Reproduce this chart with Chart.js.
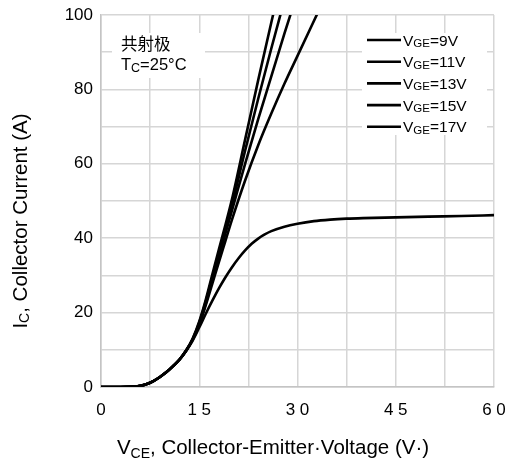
<!DOCTYPE html>
<html>
<head>
<meta charset="utf-8">
<script src="https://cdn.jsdelivr.net/npm/chart.js@4.4.0/dist/chart.umd.min.js"></script>
<style>
  html, body { margin: 0; padding: 0; background: #fff; }
  #wrap { width: 509px; height: 463px; }
</style>
</head>
<body>
<div id="wrap"><canvas id="plots" width="509" height="463"></canvas></div>
<script>
// VCE steps (V) shared by the steep curves
const vceSteep = [0, 0.3, 0.5, 0.6, 0.7, 0.8, 0.9, 1.0, 1.1, 1.2, 1.3, 1.4, 1.5, 1.6, 1.7, 1.8, 1.9, 2.0, 2.2, 2.4, 2.6, 2.8, 3.0, 3.2, 3.4]
const ic17 = [0, 0, 0.1, 0.3, 0.8, 1.6, 2.7, 4.0, 5.6, 7.4, 9.8, 13.0, 17.6, 23.5, 30.3, 37, 43.6, 50.5, 66.5, 82.5, 98, 113, 128, 143, 158]
const ic15 = [0, 0, 0.1, 0.3, 0.8, 1.6, 2.7, 4.0, 5.6, 7.4, 9.8, 12.9, 17.3, 23, 29.5, 36, 42.5, 49, 63.5, 77.5, 91, 104, 117, 130, 143]
const ic13 = [0, 0, 0.1, 0.3, 0.8, 1.6, 2.7, 4.0, 5.6, 7.4, 9.8, 12.8, 17.0, 22.5, 28.8, 35, 41.3, 47.5, 60, 72, 83.5, 95, 106, 117, 128]
const ic11 = [0, 0, 0.1, 0.3, 0.8, 1.6, 2.7, 4.0, 5.6, 7.4, 9.8, 12.7, 16.7, 22, 27.8, 33.6, 39.3, 45, 55.5, 65, 73.5, 81.5, 89, 96.5, 104]

// VGE=9V saturates, so it runs over the whole axis
const vce9 = [0, 0.3, 0.5, 0.6, 0.7, 0.8, 0.9, 1.0, 1.1, 1.2, 1.3, 1.4, 1.5, 1.6, 1.7, 1.8, 1.9, 2.0, 2.1, 2.2, 2.3, 2.4, 2.5, 2.6, 2.8, 3.0, 3.25, 3.5, 3.75, 4.0, 4.5, 5.0, 5.5, 6.0]
const ic9 = [0, 0, 0.1, 0.3, 0.8, 1.6, 2.7, 4.0, 5.6, 7.4, 9.7, 12.5, 16.0, 19.7, 23.2, 26.5, 29.5, 32.2, 34.6, 36.7, 38.5, 39.9, 41.0, 41.9, 43.1, 43.9, 44.6, 45.0, 45.25, 45.4, 45.6, 45.8, 45.95, 46.2]

const legendNames = ['9V', '11V', '13V', '15V', '17V']
const xTickLabels = ['0', '1 5', '3 0', '4 5', '6 0']
const yTickLabels = ['0', '20', '40', '60', '80', '100']

const FONT = 'Arial, "Liberation Sans", sans-serif'

function pts(xs, ys) {
  return xs.map((x, i) => ({ x: x, y: ys[i] }))
}

function serie(data) {
  return {
    data: data,
    showLine: true,
    borderColor: '#000',
    borderWidth: 2.6,
    pointRadius: 0,
    cubicInterpolationMode: 'monotone',
    fill: false
  }
}

// writes text made of normal and subscript pieces, starting at x
function textSub(ctx, parts, x, y, size, subSize, drop) {
  ctx.textAlign = 'left'
  ctx.textBaseline = 'alphabetic'
  parts.forEach(p => {
    const s = p[1] ? subSize : size
    ctx.font = s + 'px ' + FONT
    ctx.fillText(p[0], x, y + (p[1] ? drop : 0))
    x += ctx.measureText(p[0]).width
  })
  return x
}

function widthSub(ctx, parts, size, subSize) {
  let w = 0
  parts.forEach(p => {
    ctx.font = (p[1] ? subSize : size) + 'px ' + FONT
    w += ctx.measureText(p[0]).width
  })
  return w
}

const extras = {
  id: 'extras',
  beforeDatasetsDraw(chart) {
    const ctx = chart.ctx
    ctx.save()
    ctx.fillStyle = '#fff'
    ctx.fillRect(112, 33, 93, 45)   // caption box
    ctx.fillRect(362, 33, 125, 102) // legend box
    ctx.restore()
  },
  afterDraw(chart) {
    const ctx = chart.ctx
    ctx.save()
    ctx.fillStyle = '#000'

    // caption
    ctx.font = '16.5px "Noto Sans CJK SC", sans-serif'
    ctx.textBaseline = 'alphabetic'
    ctx.fillText('共射极', 121, 50)
    textSub(ctx, [['T', false], ['C', true], ['=25°C', false]], 121, 70, 16.5, 12.5, 2)

    // legend
    legendNames.forEach((n, i) => {
      const y = 40 + i * 21.7
      ctx.strokeStyle = '#000'
      ctx.lineWidth = 2.6
      ctx.beginPath()
      ctx.moveTo(367, y)
      ctx.lineTo(401, y)
      ctx.stroke()
      textSub(ctx, [['V', false], ['GE', true], ['=' + n, false]], 403, y + 5.5, 15.5, 11.5, 1.5)
    })

    // axis titles
    const xt = [['V', false], ['CE', true], [', Collector-Emitter·Voltage (V·)', false]]
    const xw = widthSub(ctx, xt, 20.5, 14)
    textSub(ctx, xt, 273 - xw / 2, 454, 20.5, 14, 4)

    ctx.translate(27, 221)
    ctx.rotate(-Math.PI / 2)
    const yt = [['I', false], ['C', true], [', Collector Current (A)', false]]
    const yw = widthSub(ctx, yt, 20.5, 14)
    textSub(ctx, yt, -yw / 2, 0, 20.5, 14, 2)
    ctx.restore()
  }
}

new Chart(document.getElementById('plots'), {
  type: 'scatter',
  data: {
    datasets: [
      serie(pts(vce9, ic9)),
      serie(pts(vceSteep, ic11)),
      serie(pts(vceSteep, ic13)),
      serie(pts(vceSteep, ic15)),
      serie(pts(vceSteep, ic17))
    ]
  },
  options: {
    responsive: false,
    animation: false,
    layout: { padding: { top: 15, right: 15, left: 0, bottom: 0 } },
    plugins: { legend: { display: false }, tooltip: { enabled: false } },
    scales: {
      x: {
        type: 'linear',
        min: 0,
        max: 6,
        afterFit: s => { s.height = 76; s.paddingLeft = 0; s.paddingRight = 0 },
        border: { color: '#c4c4c4', width: 1.5 },
        grid: { color: '#d6d6d6', lineWidth: 1.5, drawTicks: false },
        ticks: {
          stepSize: 0.75,
          padding: 13,
          color: '#000',
          font: { family: FONT, size: 17 },
          maxRotation: 0,
          autoSkip: false,
          callback: v => {
            const k = Math.round(v / 1.5)
            return Math.abs(v - k * 1.5) < 1e-6 ? xTickLabels[k] : ''
          }
        }
      },
      y: {
        min: 0,
        max: 100,
        afterFit: s => { s.width = 101; s.paddingTop = 0; s.paddingBottom = 0 },
        border: { color: '#c4c4c4', width: 1.5 },
        grid: { color: '#d6d6d6', lineWidth: 1.5, drawTicks: false },
        ticks: {
          stepSize: 10,
          padding: 8,
          color: '#000',
          font: { family: FONT, size: 17 },
          autoSkip: false,
          callback: v => (v % 20 === 0 ? yTickLabels[v / 20] : '')
        }
      }
    }
  },
  plugins: [extras]
})
</script>
</body>
</html>
